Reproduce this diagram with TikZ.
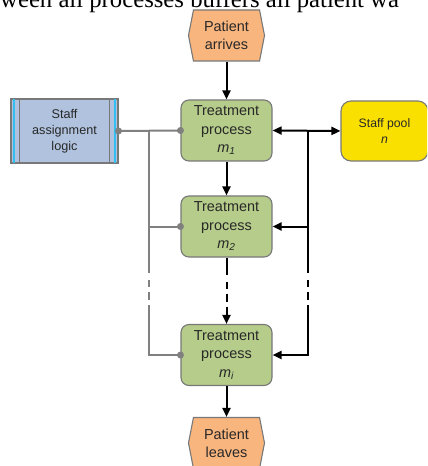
\documentclass[tikz,border=0pt]{standalone}
\usepackage{fontspec}
\setmainfont{Liberation Sans}
\newfontfamily\pageserif{Liberation Serif}
\usetikzlibrary{shapes.geometric,shapes.symbols,arrows.meta,calc}
\definecolor{hexorange}{RGB}{249,181,126}
\definecolor{procgreen}{RGB}{181,204,138}
\definecolor{logicblue}{RGB}{176,194,222}
\definecolor{stripecyan}{RGB}{50,190,240}
\definecolor{poolyellow}{RGB}{250,224,0}
\definecolor{boxgray}{RGB}{120,120,120}
\definecolor{linegray}{RGB}{128,128,128}
\definecolor{txt}{RGB}{40,40,40}
\tikzset{
  proc/.style={draw=boxgray, line width=1.1bp, fill=procgreen, rounded corners=8bp,
    minimum width=91bp, minimum height=61bp, inner sep=0pt, align=center,
    text=txt, font=\fontsize{14.5}{18.5}\selectfont},
  hexa/.style={signal, signal to=east and west, signal pointer angle=158,
    draw=boxgray, line width=1.1bp, fill=hexorange, minimum width=76bp, minimum height=51bp,
    inner sep=0pt, align=center, text=txt, font=\fontsize{14.5}{18}\selectfont},
  logicbox/.style={draw=boxgray, line width=1.1bp, fill=logicblue, minimum width=107bp,
    minimum height=64bp, inner sep=0pt, align=center, text=txt,
    font=\fontsize{12.7}{16}\selectfont},
  poolbox/.style={draw=boxgray, line width=1.1bp, fill=poolyellow, rounded corners=10bp,
    minimum width=87bp, minimum height=60bp, inner sep=0pt, align=center, text=txt,
    font=\fontsize{12.3}{16}\selectfont},
  blk/.style={draw=black, line width=2bp, -{Triangle[length=9bp,width=8bp]}},
  gry/.style={draw=linegray, line width=2bp},
  dashdot/.style={dash pattern=on #1 off 7bp on 7bp off 5bp on 8bp off 5bp on 400bp},
  graydot/.style={fill=linegray}
}
\begin{document}
\begin{tikzpicture}[x=1bp,y=-1bp]
\useasboundingbox (0,0) rectangle (427,466);
\begin{scope}
\clip (0,0) rectangle (427,466);
\node[anchor=base west, inner sep=0pt, font=\pageserif\fontsize{24.8}{28}\selectfont] (pagetext) at (0,7.5) {ween all processes buffers all patient wa};

\node[hexa] (arrive) at (226.5,35.5) {Patient\\arrives};
\node[proc] (t1) at (226.5,130.5) {Treatment\\process\\{\itshape m\textsubscript{1}}};
\node[proc] (t2) at (226.5,226.5) {Treatment\\process\\{\itshape m\textsubscript{2}}};
\node[proc] (ti) at (226.5,355) {Treatment\\process\\{\itshape m\textsubscript{i}}};
\node[hexa] (leave) at (226.5,443) {Patient\\leaves};
\node[logicbox] (logic) at (64.5,131) {Staff\\assignment\\logic};
\node[poolbox] (pool) at (384.5,131) {Staff pool\\{\itshape n}};

% logic box stripes
\draw[stripecyan, line width=2bp] ($(logic.north west)+(4,0.6)$) -- ($(logic.south west)+(4,-0.6)$);
\draw[boxgray, line width=1.1bp] ($(logic.north west)+(9,0)$) -- ($(logic.south west)+(9,0)$);
\draw[stripecyan, line width=2bp] ($(logic.north east)+(-4,0.6)$) -- ($(logic.south east)+(-4,-0.6)$);
\draw[boxgray, line width=1.1bp] ($(logic.north east)+(-9,0)$) -- ($(logic.south east)+(-9,0)$);

% main flow
\draw[blk] (arrive.south) -- (t1.north);
\draw[blk] (t1.south) -- (t2.north);
\draw[blk, dashdot=17bp] (t2.south) -- (ti.north);
\draw[blk] (ti.south) -- (leave.north);

% staff assignment (gray)
\coordinate (jl) at (149,131);
\draw[gry] (logic.east) -- (t1.west);
\draw[gry, dashdot=142bp] (jl) |- (ti.west);
\draw[gry] (jl |- t2.west) -- (t2.west);
\fill[graydot] (logic.east) circle (3.5bp);
\fill[graydot] (t1.west) circle (3.5bp);
\fill[graydot] (t2.west) circle (3.5bp);
\fill[graydot] (ti.west) circle (3.5bp);

% staff pool (black)
\coordinate (jr) at (308,131);
\draw[blk, {Triangle[length=9bp,width=8bp]}-{Triangle[length=9bp,width=8bp]}] (t1.east) -- (pool.west);
\draw[blk, dashdot=142bp] (jr) |- (ti.east);
\draw[blk] (jr |- t2.east) -- (t2.east);
\end{scope}
\end{tikzpicture}
\end{document}
